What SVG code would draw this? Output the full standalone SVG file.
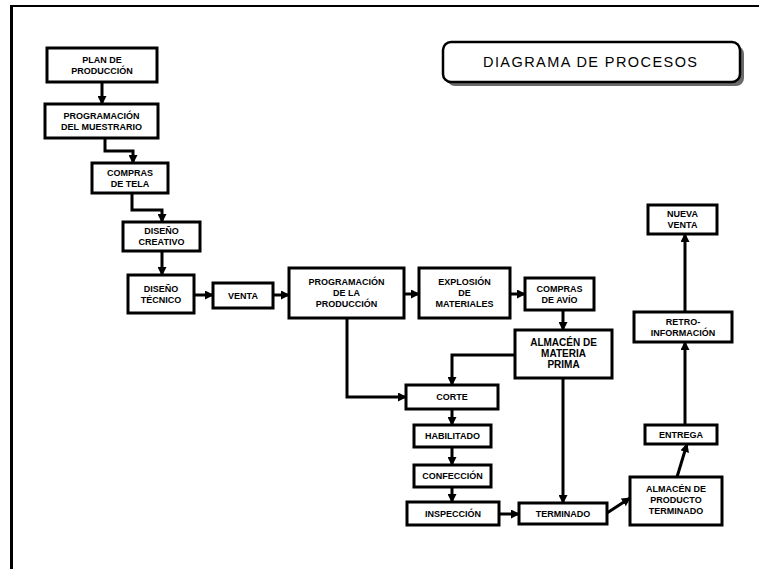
<svg xmlns="http://www.w3.org/2000/svg" width="759" height="569" viewBox="0 0 759 569">
  <defs>
    <marker id="arrow" markerUnits="userSpaceOnUse" markerWidth="9" markerHeight="9" refX="8" refY="4.5" orient="auto">
      <path d="M0,0 L9,4.5 L0,9 z" fill="#000"/>
    </marker>
  </defs>
  <style>
    .box { fill: #fff; stroke: #000; stroke-width: 3; }
    .lbl { font-family: "Liberation Sans", Arial, sans-serif; font-weight: bold; font-size: 9px; fill: #000; text-anchor: middle; }
    .big { font-size: 10px; }
    .conn { fill: none; stroke: #000; stroke-width: 3; marker-end: url(#arrow); }
    .frame { stroke: #000; fill: none; }
  </style>

  <rect width="759" height="569" fill="#fff"/>

  <!-- page frame -->
  <g id="frame">
    <line class="frame" x1="11.5" y1="5" x2="11.5" y2="569" stroke-width="3"/>
    <line class="frame" x1="10" y1="6" x2="759" y2="6" stroke-width="2"/>
  </g>

  <!-- title -->
  <g id="title">
    <rect x="447" y="46" width="297" height="40" rx="8" fill="#6a6a6a"/>
    <rect x="443" y="42" width="297" height="40" rx="8" fill="#fff" stroke="#000" stroke-width="2.5"/>
    <text x="590" y="67" font-family="Liberation Sans, Arial, sans-serif" font-size="14.5" text-anchor="middle" textLength="214" lengthAdjust="spacing">DIAGRAMA DE PROCESOS</text>
  </g>

  <!-- connectors -->
  <g id="connectors">
    <path class="conn" d="M102,82 V104"/>
    <path class="conn" d="M105,138 V151 H133 V163"/>
    <path class="conn" d="M132,193 V210 H162 V222"/>
    <path class="conn" d="M162,251 V275"/>
    <path class="conn" d="M194,295 H213"/>
    <path class="conn" d="M273,295 H289"/>
    <path class="conn" d="M404,294 H419"/>
    <path class="conn" d="M510,294 H525"/>
    <path class="conn" d="M563,310 V330"/>
    <path class="conn" d="M515,355 H452 V385"/>
    <path class="conn" d="M347,318 V397 H406"/>
    <path class="conn" d="M452,409 V425"/>
    <path class="conn" d="M452,447 V465"/>
    <path class="conn" d="M452,487 V502"/>
    <path class="conn" d="M499,514 H519"/>
    <path class="conn" d="M563,378 V503"/>
    <path class="conn" d="M607,513 L630,498"/>
    <path class="conn" d="M677,477 L687,444"/>
    <path class="conn" d="M685,425 V342"/>
    <path class="conn" d="M685,312 V234"/>
  </g>

  <!-- nodes -->
  <g id="plan-produccion">
    <rect class="box" x="47" y="48" width="110" height="34"/>
    <text class="lbl" x="102" y="63">PLAN DE</text>
    <text class="lbl" x="102" y="74">PRODUCCIÓN</text>
  </g>
  <g id="programacion-muestrario">
    <rect class="box" x="45" y="104" width="113" height="34"/>
    <text class="lbl" x="101.5" y="119">PROGRAMACIÓN</text>
    <text class="lbl" x="101.5" y="130">DEL MUESTRARIO</text>
  </g>
  <g id="compras-tela">
    <rect class="box" x="92" y="163" width="76" height="30"/>
    <text class="lbl" x="130" y="176">COMPRAS</text>
    <text class="lbl" x="130" y="187">DE TELA</text>
  </g>
  <g id="diseno-creativo">
    <rect class="box" x="123" y="222" width="77" height="29"/>
    <text class="lbl" x="161.5" y="234">DISEÑO</text>
    <text class="lbl" x="161.5" y="245">CREATIVO</text>
  </g>
  <g id="diseno-tecnico">
    <rect class="box" x="128" y="275" width="66" height="38"/>
    <text class="lbl" x="161" y="292">DISEÑO</text>
    <text class="lbl" x="161" y="303">TÉCNICO</text>
  </g>
  <g id="venta">
    <rect class="box" x="213" y="283" width="60" height="25"/>
    <text class="lbl" x="243" y="299">VENTA</text>
  </g>
  <g id="programacion-produccion">
    <rect class="box" x="289" y="268" width="115" height="50"/>
    <text class="lbl" x="346.5" y="285">PROGRAMACIÓN</text>
    <text class="lbl" x="346.5" y="296">DE LA</text>
    <text class="lbl" x="346.5" y="307">PRODUCCIÓN</text>
  </g>
  <g id="explosion-materiales">
    <rect class="box" x="419" y="268" width="91" height="50"/>
    <text class="lbl" x="464.5" y="285">EXPLOSIÓN</text>
    <text class="lbl" x="464.5" y="296">DE</text>
    <text class="lbl" x="464.5" y="307">MATERIALES</text>
  </g>
  <g id="compras-avio">
    <rect class="box" x="525" y="278" width="69" height="32"/>
    <text class="lbl" x="559.5" y="292">COMPRAS</text>
    <text class="lbl" x="559.5" y="303">DE AVÍO</text>
  </g>
  <g id="almacen-materia-prima">
    <rect class="box" x="515" y="330" width="97" height="48"/>
    <text class="lbl big" x="563.5" y="346">ALMACÉN DE</text>
    <text class="lbl big" x="563.5" y="357">MATERIA</text>
    <text class="lbl big" x="563.5" y="368">PRIMA</text>
  </g>
  <g id="corte">
    <rect class="box" x="406" y="385" width="92" height="24"/>
    <text class="lbl" x="452" y="400">CORTE</text>
  </g>
  <g id="habilitado">
    <rect class="box" x="414" y="425" width="77" height="22"/>
    <text class="lbl" x="452.5" y="439">HABILITADO</text>
  </g>
  <g id="confeccion">
    <rect class="box" x="414" y="465" width="77" height="22"/>
    <text class="lbl" x="452.5" y="479">CONFECCIÓN</text>
  </g>
  <g id="inspeccion">
    <rect class="box" x="407" y="502" width="92" height="23"/>
    <text class="lbl" x="453" y="517">INSPECCIÓN</text>
  </g>
  <g id="terminado">
    <rect class="box" x="519" y="503" width="88" height="21"/>
    <text class="lbl" x="563" y="517">TERMINADO</text>
  </g>
  <g id="almacen-producto-terminado">
    <rect class="box" x="630" y="477" width="92" height="48"/>
    <text class="lbl" x="676" y="492">ALMACÉN DE</text>
    <text class="lbl" x="676" y="503">PRODUCTO</text>
    <text class="lbl" x="676" y="514">TERMINADO</text>
  </g>
  <g id="entrega">
    <rect class="box" x="645" y="425" width="72" height="19"/>
    <text class="lbl" x="681" y="438">ENTREGA</text>
  </g>
  <g id="retroinformacion">
    <rect class="box" x="634" y="312" width="98" height="30"/>
    <text class="lbl" x="683" y="325">RETRO-</text>
    <text class="lbl" x="683" y="336">INFORMACIÓN</text>
  </g>
  <g id="nueva-venta">
    <rect class="box" x="648" y="205" width="69" height="29"/>
    <text class="lbl" x="682.5" y="217">NUEVA</text>
    <text class="lbl" x="682.5" y="228">VENTA</text>
  </g>
</svg>
